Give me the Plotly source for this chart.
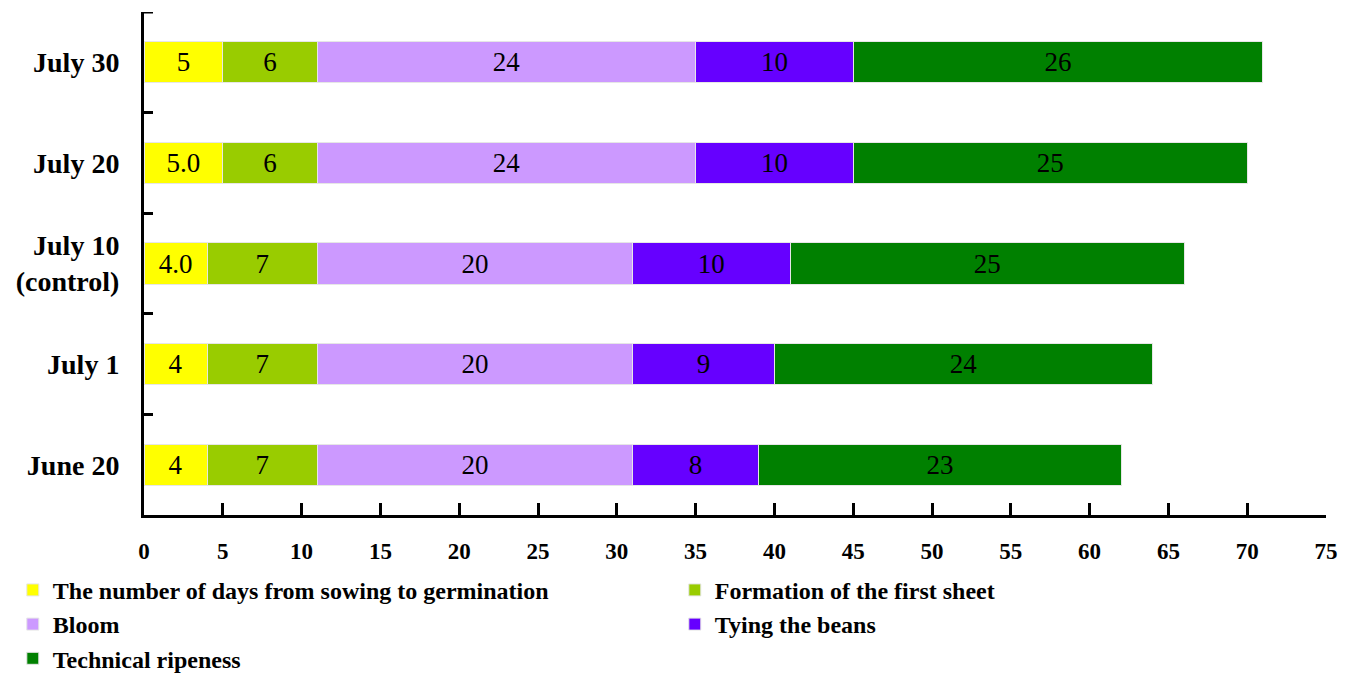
import plotly.graph_objects as go

# Sowing dates (bottom to top on the chart)
dates = ["June 20", "July 1", "July 10<br>(control)", "July 20", "July 30"]

# Duration of each development phase, days
germination = [4, 4, 4.0, 5.0, 5]
first_sheet = [7, 7, 7, 6, 6]
bloom = [20, 20, 20, 24, 24]
tying = [8, 9, 10, 10, 10]
ripeness = [23, 24, 25, 25, 26]

# Text shown inside each segment
germination_lbl = ["4", "4", "4.0", "5.0", "5"]
first_sheet_lbl = ["7", "7", "7", "6", "6"]
bloom_lbl = ["20", "20", "20", "24", "24"]
tying_lbl = ["8", "9", "10", "10", "10"]
ripeness_lbl = ["23", "24", "25", "25", "26"]

phases = [
    ("The number of days from sowing to germination", germination, germination_lbl, "#FFFF00"),
    ("Formation of the first sheet", first_sheet, first_sheet_lbl, "#99CC00"),
    ("Bloom", bloom, bloom_lbl, "#CC99FF"),
    ("Tying the beans", tying, tying_lbl, "#6600FF"),
    ("Technical ripeness", ripeness, ripeness_lbl, "#008000"),
]

SERIF = "Liberation Serif, Times New Roman, serif"

fig = go.Figure()
for name, vals, lbls, color in phases:
    fig.add_trace(go.Bar(
        y=dates, x=vals, name=name, orientation="h",
        marker=dict(color=color, line=dict(color="#e6e6e6", width=1)),
        text=lbls, textposition="inside", insidetextanchor="middle",
        textangle=0, constraintext="none",
        insidetextfont=dict(family=SERIF, size=27, color="black"),
        hoverinfo="x+name",
    ))

fig.update_layout(
    barmode="stack",
    bargap=0.59,
    width=1349, height=673,
    margin=dict(l=144, r=23, t=12, b=158, autoexpand=False),
    plot_bgcolor="white", paper_bgcolor="white",
    font=dict(family=SERIF, color="black"),
    showlegend=True,
    legend=dict(
        orientation="h", traceorder="normal",
        x=-0.111, xanchor="left", y=-0.105, yanchor="top",
        entrywidth=617, entrywidthmode="pixels",
        itemwidth=30,
        font=dict(family=SERIF, size=24, color="black", weight="bold"),
        tracegroupgap=0,
    ),
    uniformtext=dict(mode=False),
)

fig.update_xaxes(
    range=[0, 75], dtick=5, tick0=0,
    showline=True, linecolor="black", linewidth=3,
    ticks="inside", ticklen=12, tickwidth=3, tickcolor="black",
    showgrid=False, zeroline=False,
    tickfont=dict(family=SERIF, size=23, color="black", weight="bold"),
    ticklabelstandoff=13,
)
fig.update_yaxes(
    type="category", categoryorder="array", categoryarray=dates,
    range=[-0.5, 4.5],
    showline=True, linecolor="black", linewidth=3,
    ticks="inside", tickson="boundaries", ticklen=9, tickwidth=3, tickcolor="black",
    showgrid=False, zeroline=False,
    tickfont=dict(family=SERIF, size=28, color="black", weight="bold"),
    ticklabelstandoff=16,
)

# Closing tick at the top end of the category axis
fig.add_shape(
    type="line", xref="x", yref="y", xsizemode="pixel", xanchor=0,
    x0=0, x1=9, y0=4.5, y1=4.5,
    line=dict(color="black", width=3),
)

fig.write_html("out.html")
